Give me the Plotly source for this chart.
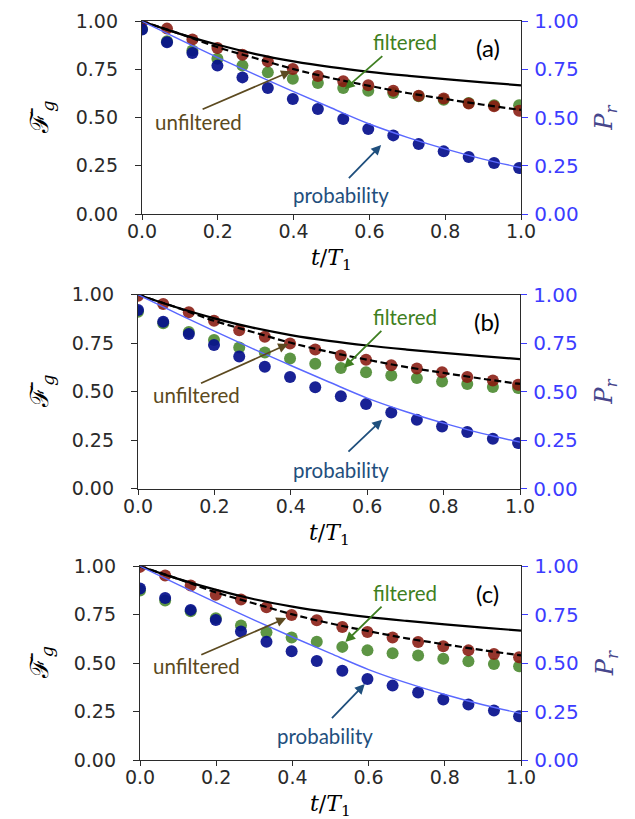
import plotly.graph_objects as go

# ---------------- data ----------------
times = [0.0, 0.066, 0.133, 0.199, 0.265, 0.332, 0.398, 0.464,
         0.531, 0.597, 0.663, 0.730, 0.796, 0.862, 0.929, 0.995]

red_a = [1.000, 0.962, 0.905, 0.862, 0.827, 0.792, 0.753, 0.716,
         0.689, 0.668, 0.640, 0.614, 0.599, 0.573, 0.559, 0.536]
green_a = [0.960, 0.896, 0.848, 0.806, 0.770, 0.735, 0.702, 0.680,
           0.654, 0.640, 0.628, 0.611, 0.593, 0.576, 0.564, 0.564]
blue_a = [0.957, 0.891, 0.836, 0.770, 0.709, 0.654, 0.597, 0.545,
          0.493, 0.441, 0.408, 0.363, 0.325, 0.296, 0.265, 0.239]

red_b = [0.995, 0.952, 0.909, 0.866, 0.817, 0.783, 0.748, 0.717,
         0.687, 0.665, 0.636, 0.619, 0.600, 0.576, 0.558, 0.536]
green_b = [0.912, 0.853, 0.808, 0.767, 0.728, 0.702, 0.671, 0.644,
           0.622, 0.600, 0.584, 0.570, 0.553, 0.540, 0.524, 0.519]
blue_b = [0.921, 0.860, 0.797, 0.741, 0.681, 0.629, 0.576, 0.523,
          0.476, 0.436, 0.393, 0.356, 0.321, 0.292, 0.258, 0.235]

red_c = [0.997, 0.952, 0.901, 0.853, 0.829, 0.789, 0.749, 0.721,
         0.687, 0.661, 0.633, 0.609, 0.587, 0.566, 0.547, 0.530]
green_c = [0.875, 0.824, 0.768, 0.732, 0.694, 0.659, 0.633, 0.611,
           0.584, 0.566, 0.551, 0.539, 0.523, 0.510, 0.496, 0.484]
blue_c = [0.885, 0.836, 0.775, 0.723, 0.663, 0.611, 0.561, 0.511,
          0.461, 0.418, 0.384, 0.349, 0.312, 0.286, 0.255, 0.226]

line_t = [0.0, 0.1, 0.2, 0.3, 0.4, 0.5, 0.6, 0.7, 0.8, 0.9, 1.0]
solid_line = [1.0, 0.935, 0.878, 0.830, 0.792, 0.762, 0.738, 0.718, 0.700, 0.683, 0.668]
dashed_line = [1.0, 0.935, 0.865, 0.808, 0.752, 0.705, 0.665, 0.628, 0.597, 0.567, 0.540]
prob_line = [1.0, 0.905, 0.812, 0.722, 0.635, 0.550, 0.467, 0.398, 0.338, 0.285, 0.240]

panel_labels = ["(a)", "(b)", "(c)"]
x_ticks = [0.0, 0.2, 0.4, 0.6, 0.8, 1.0]
y_ticks = [0.0, 0.25, 0.5, 0.75, 1.0]

# ---------------- styling ----------------
W, H = 635, 819
RED = "rgba(135,25,15,0.88)"
GREEN = "rgba(65,130,35,0.85)"
NAVY = "rgba(5,15,140,0.92)"
BLUE_LINE = "#5a68ff"
RIGHT_TICK = "#3c3cff"
AX = "#2b2b2b"
TXT_GREEN = "#3f7f22"
TXT_BROWN = "#5c4a20"
TXT_BLUE = "#1f4f7d"
LEFT_FONT = dict(family="DejaVu Sans", size=19, color="#2a2a2a")
BOTTOM_FONT = dict(family="DejaVu Sans", size=19, color="#2a2a2a")
RIGHT_FONT = dict(family="DejaVu Sans", size=20, color=RIGHT_TICK)
NOTE_FONT = "Lato"

# panel pixel boxes: (left, right, top, bottom)
boxes = [(134, 513, 13.3, 206), (130, 512, 286.7, 480.7), (132, 513, 558.3, 752)]
xtitle_y = [251, 526, 797]

panels = [(red_a, green_a, blue_a), (red_b, green_b, blue_b), (red_c, green_c, blue_c)]

fig = go.Figure()
layout = dict(width=W, height=H, margin=dict(l=0, r=0, t=0, b=0),
              paper_bgcolor="white", plot_bgcolor="white", showlegend=False)
annotations = []

for i, (red, green, blue) in enumerate(panels):
    n = i + 1
    xs = "" if n == 1 else str(n)
    xa, ya, yr = "x" + xs, "y" + xs, "y" + str(n + 3)
    L, R, T, B = boxes[i]

    layout["xaxis" + xs] = dict(
        domain=[L / W, R / W], range=[0, 1], anchor=ya,
        tickvals=x_ticks, tickformat=".1f", ticks="outside", ticklen=5,
        tickwidth=1.2, tickcolor=AX, showline=True, linecolor=AX, linewidth=1.3,
        mirror=True, showgrid=False, zeroline=False, tickfont=BOTTOM_FONT,
        ticklabelstandoff=-5, automargin=False)
    layout["yaxis" + xs] = dict(
        domain=[1 - B / H, 1 - T / H], range=[0, 1], anchor=xa,
        tickvals=y_ticks, tickformat=".2f", ticks="outside", ticklen=6,
        tickwidth=1.2, tickcolor=AX, showline=True, linecolor=AX, linewidth=1.3,
        showgrid=False, zeroline=False, tickfont=LEFT_FONT,
        ticklabelstandoff=13, automargin=False)
    layout["yaxis" + str(n + 3)] = dict(
        overlaying=ya, side="right", anchor=xa, range=[0, 1],
        tickvals=y_ticks, tickformat=".2f", ticks="outside", ticklen=6,
        tickwidth=1.2, tickcolor=RIGHT_TICK, showline=True, linecolor=AX,
        linewidth=1.3, showgrid=False, zeroline=False, tickfont=RIGHT_FONT,
        ticklabelstandoff=2, automargin=False)

    mk = lambda c: dict(size=12, color=c, line=dict(width=0))
    fig.add_trace(go.Scatter(x=times, y=green, mode="markers", marker=mk(GREEN),
                             xaxis=xa, yaxis=ya, cliponaxis=True))
    fig.add_trace(go.Scatter(x=times, y=red, mode="markers", marker=mk(RED),
                             xaxis=xa, yaxis=ya, cliponaxis=True))
    fig.add_trace(go.Scatter(x=line_t, y=solid_line, mode="lines",
                             line=dict(color="black", width=2.2, shape="spline"),
                             xaxis=xa, yaxis=ya))
    fig.add_trace(go.Scatter(x=line_t, y=dashed_line, mode="lines",
                             line=dict(color="black", width=2.2, dash="7px,3.5px",
                                       shape="spline"),
                             xaxis=xa, yaxis=ya))
    fig.add_trace(go.Scatter(x=times, y=blue, mode="markers", marker=mk(NAVY),
                             xaxis=xa, yaxis=yr, cliponaxis=True))
    fig.add_trace(go.Scatter(x=line_t, y=prob_line, mode="lines",
                             line=dict(color=BLUE_LINE, width=1.4, shape="spline"),
                             xaxis=xa, yaxis=yr))

    # axis titles
    cy = 1 - (T + B) / 2 / H
    annotations.append(dict(x=33 / W, y=cy, xref="paper", yref="paper",
                            text="ℱ̄<sub><i>g</i></sub>", showarrow=False, textangle=-90,
                            font=dict(family="DejaVu Serif", size=25, color="black"),
                            xanchor="center", yanchor="middle"))
    annotations.append(dict(x=598 / W, y=cy, xref="paper", yref="paper",
                            text="<i>P</i><sub><i>r</i></sub>", showarrow=False,
                            textangle=-90,
                            font=dict(family="DejaVu Serif", size=24, color="#46468c"),
                            xanchor="center", yanchor="middle"))
    annotations.append(dict(x=(L + R) / 2 / W, y=1 - xtitle_y[i] / H, xref="paper",
                            yref="paper", text="<i>t</i>/<i>T</i><sub>1</sub>",
                            showarrow=False,
                            font=dict(family="DejaVu Serif", size=22, color="black"),
                            xanchor="center", yanchor="middle"))
    # panel label
    annotations.append(dict(x=0.913, y=0.862, xref=xa, yref=ya, text=panel_labels[i],
                            showarrow=False,
                            font=dict(family=NOTE_FONT, size=24, color="black")))

# text + arrows per panel: (text_x, text_y, tail_x, tail_y, head_x, head_y)
filt = [(0.694, 0.895, 0.638, 0.826, 0.535, 0.648),
        (0.699, 0.885, 0.641, 0.821, 0.539, 0.622),
        (0.696, 0.862, 0.638, 0.799, 0.539, 0.609)]
unfilt = [(0.150, 0.478, 0.156, 0.540, 0.393, 0.741),
          (0.152, 0.485, 0.161, 0.540, 0.393, 0.746),
          (0.147, 0.484, 0.157, 0.540, 0.384, 0.733)]
prob = [(0.525, 0.100, 0.542, 0.178, 0.631, 0.358),
        (0.531, 0.098, 0.547, 0.184, 0.639, 0.356),
        (0.486, 0.122, 0.500, 0.208, 0.590, 0.392)]

for i in range(3):
    xs = "" if i == 0 else str(i + 1)
    xa, ya = "x" + xs, "y" + xs
    for spec, word, col in [(filt[i], "filtered", TXT_GREEN),
                            (unfilt[i], "unfiltered", TXT_BROWN),
                            (prob[i], "probability", TXT_BLUE)]:
        tx, ty, ax_, ay_, hx, hy = spec
        annotations.append(dict(x=tx, y=ty, xref=xa, yref=ya, text=word,
                                showarrow=False,
                                font=dict(family=NOTE_FONT, size=20.5, color=col)))
        annotations.append(dict(x=hx, y=hy, ax=ax_, ay=ay_, xref=xa, yref=ya,
                                axref=xa, ayref=ya, text="", showarrow=True,
                                arrowhead=2, arrowsize=1.1, arrowwidth=1.8,
                                arrowcolor=col, standoff=0, startstandoff=0))

layout["annotations"] = annotations
fig.update_layout(**layout)
fig.write_html("out.html")
